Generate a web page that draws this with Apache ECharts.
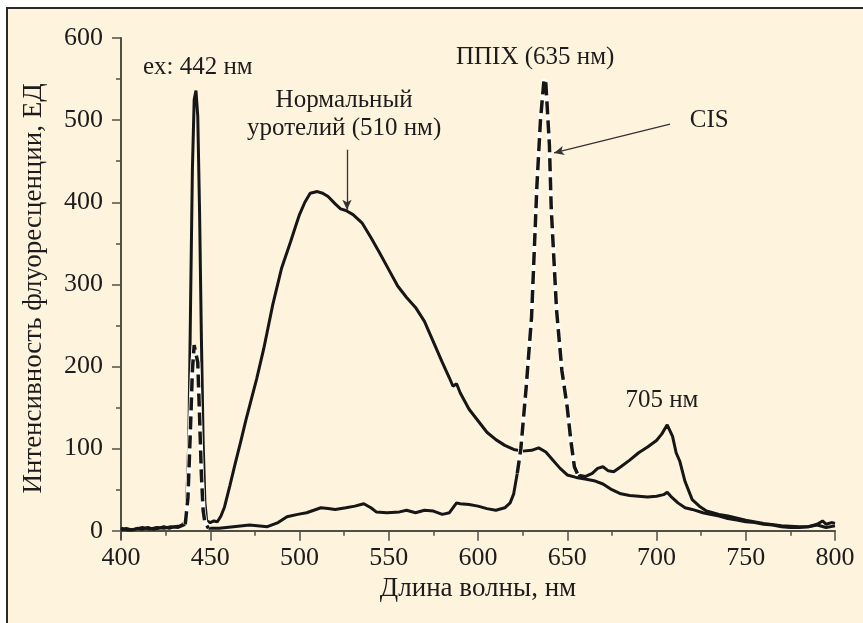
<!DOCTYPE html>
<html>
<head>
<meta charset="utf-8">
<script src="https://cdn.jsdelivr.net/npm/echarts@6/dist/echarts.min.js"></script>
<style>
  html, body { margin: 0; padding: 0; background: #ffffff; }
  #chart { width: 863px; height: 623px; }
</style>
</head>
<body>
<div id="chart"></div>
<script>
// Спектр нормального уротелия
const normalNm = [400,403,406,409,412,415,418,421,424,427,430,433,435,436.5,438,439,440,441,442,443,444,445,446,447,448,450,452,454,456,458,461,464,467,470,473,476,480,485,490,495,498,500,503,506,510,513,516,520,523,526,530,535,540,545,550,555,560,565,570,575,580,584,586,588,590,595,600,605,610,615,620,625,630,634,638,642,646,650,655,660,665,670,675,680,685,690,695,700,704,706,708,712,716,720,726,730,735,740,745,750,755,760,765,770,775,780,785,790,793,795,798,800];
const normalIntensity = [1,3,1,3,2,4,2,3,5,3,5,6,8,15,110,280,440,525,536,505,390,240,110,35,12,10,12,11,18,29,55,82,108,135,160,185,222,275,320,352,372,385,400,411,413,411,407,398,392,390,385,375,357,338,318,298,284,272,255,230,205,186,176,179,168,148,134,120,111,104,99,97,98,101,96,86,76,68,65,63,61,57,50,45,43,42,41,42,44,47,42,34,28,26,22,20,18,15,13,11,10,8,7,5,4,4,5,8,12,8,10,9];

// Спектр CIS
const cisNm = [400,404,408,412,416,420,424,428,432,435,436,437.5,439,440,441,442,443,444,445,446,447,449,455,463,472,482,488,493,499,504,508,512,516,520,526,531,536,540,543,549,556,560,565,570,575,580,584,588,590,595,600,605,610,615,618,620,622,624,627,630,633,635,637,638,640,641,644,647,650,652,654,656,660,664,667,670,673,676,680,685,690,695,700,703,706,707,709,711,713,716,720,724,728,735,740,750,760,770,780,785,790,795,800];
const cisIntensity = [3,1,2,4,2,4,3,5,4,7,8,40,130,195,226,228,205,140,70,25,10,3,3,5,7,5,10,17,20,22,25,28,27,26,28,30,33,28,23,22,23,25,22,25,24,20,22,34,33,32,30,27,25,28,34,45,70,100,175,260,420,500,550,545,470,394,269,195,150,110,78,68,66,70,76,78,73,72,78,86,95,102,110,118,129,127,115,95,85,60,38,30,24,20,18,13,9,6,5,5,7,4,6];

// Участки спектра CIS, показанные пунктиром
const cisDashedRanges = [[436, 449], [622, 656]];

const yTickValues = [0, 100, 200, 300, 400, 500, 600];
const yMinorTickValues = [50, 150, 250, 350, 450, 550];

const FONT = 'Liberation Serif';
const INK = '#1e1b1c';
const AXIS = '#4f4f46';
const CREAM = '#fef3dc';

const pairs = (xs, ys) => xs.map((x, i) => [x, ys[i]]);
const inDashed = x => cisDashedRanges.some(([a, b]) => x >= a && x <= b);

const normalData = pairs(normalNm, normalIntensity);
const cisAll = pairs(cisNm, cisIntensity);
// solid part: break the line inside dashed ranges (keep the boundary points)
const cisSolid = cisAll.map(p => {
  const inside = cisDashedRanges.some(([a, b]) => p[0] > a && p[0] < b);
  return inside ? [p[0], null] : p;
});
const cisDashed = cisAll.map(p => inDashed(p[0]) ? p : [p[0], null]);

const tickText = { fontFamily: FONT, fontSize: 26, color: INK };
const nameText = { fontFamily: FONT, fontSize: 27, color: INK };
const noteText = { fontFamily: FONT, fontSize: 25, color: INK };

const chart = echarts.init(document.getElementById('chart'), null, { renderer: 'canvas' });

chart.setOption({
  backgroundColor: '#ffffff',
  animation: false,
  graphic: [
    { type: 'rect', z: -100, shape: { x: 7, y: 8, width: 856, height: 615 }, style: { fill: CREAM } },
    { type: 'polyline', z: -90, shape: { points: [[7, 623], [7, 8], [863, 8]] }, style: { stroke: '#2a2a2a', lineWidth: 2, fill: null } }
  ],
  grid: { left: 121, right: 28, top: 38, bottom: 84, containLabel: false },
  xAxis: {
    type: 'value', min: 400, max: 800, interval: 50,
    name: 'Длина волны, нм', nameLocation: 'middle', nameGap: 28,
    nameTextStyle: nameText,
    axisLine: { lineStyle: { color: AXIS, width: 2 } },
    axisTick: { length: 10, lineStyle: { color: AXIS, width: 1.5 } },
    minorTick: { show: true, splitNumber: 2, length: 5, lineStyle: { color: AXIS, width: 1.5 } },
    axisLabel: Object.assign({ margin: 6 }, tickText),
    splitLine: { show: false }
  },
  yAxis: [
    {
      type: 'value', min: -10, max: 600,
      name: 'Интенсивность флуоресценции, ЕД', nameLocation: 'middle', nameGap: 74,
      nameTextStyle: nameText,
      axisLine: { lineStyle: { color: AXIS, width: 2 } },
      axisTick: { length: 9, customValues: yTickValues, lineStyle: { color: AXIS, width: 1.5 } },
      axisLabel: Object.assign({ margin: 18, customValues: yTickValues }, tickText),
      splitLine: { show: false }
    },
    {
      type: 'value', min: -10, max: 600, position: 'left',
      axisLine: { show: false },
      axisTick: { length: 5, customValues: yMinorTickValues, lineStyle: { color: AXIS, width: 1.5 } },
      axisLabel: { show: false },
      splitLine: { show: false }
    }
  ],
  series: [
    {
      name: 'Нормальный уротелий', type: 'line', data: normalData, showSymbol: false,
      lineStyle: { color: '#161616', width: 3 }, z: 3
    },
    {
      name: 'CIS', type: 'line', data: cisSolid, showSymbol: false, connectNulls: false,
      lineStyle: { color: '#161616', width: 3 }, z: 3
    },
    {
      name: 'CIS (подложка)', type: 'line', data: cisDashed, showSymbol: false, connectNulls: false,
      lineStyle: { color: '#fffdf6', width: 5 }, z: 4, silent: true
    },
    {
      name: 'CIS (пунктир)', type: 'line', data: cisDashed, showSymbol: false, connectNulls: false,
      lineStyle: { color: '#161616', width: 3.5, type: [13, 6] }, z: 5
    },
    {
      name: 'Подписи', type: 'scatter', symbolSize: 0, z: 6, silent: true,
      itemStyle: { opacity: 1 },
      data: [
        { value: [443, 564], label: { formatter: 'ex: 442 нм' } },
        { value: [525, 507], label: { formatter: 'Нормальный\nуротелий (510 нм)', lineHeight: 28 } },
        { value: [632, 576], label: { formatter: 'ППIX (635 нм)' } },
        { value: [729.5, 500], label: { formatter: 'CIS' } },
        { value: [703, 159], label: { formatter: '705 нм' } }
      ],
      label: Object.assign({ show: true, position: 'inside', align: 'center', verticalAlign: 'middle', opacity: 1 }, noteText),
      markLine: {
        silent: true, symbol: ['none', 'arrow'], symbolSize: [7, 10],
        label: { show: false },
        lineStyle: { color: '#333333', width: 1.3, type: 'solid' },
        data: [
          [{ coord: [526.6, 464] }, { coord: [526.6, 391] }],
          [{ coord: [707.6, 495] }, { coord: [642.6, 460] }]
        ]
      }
    }
  ]
});
</script>
</body>
</html>
